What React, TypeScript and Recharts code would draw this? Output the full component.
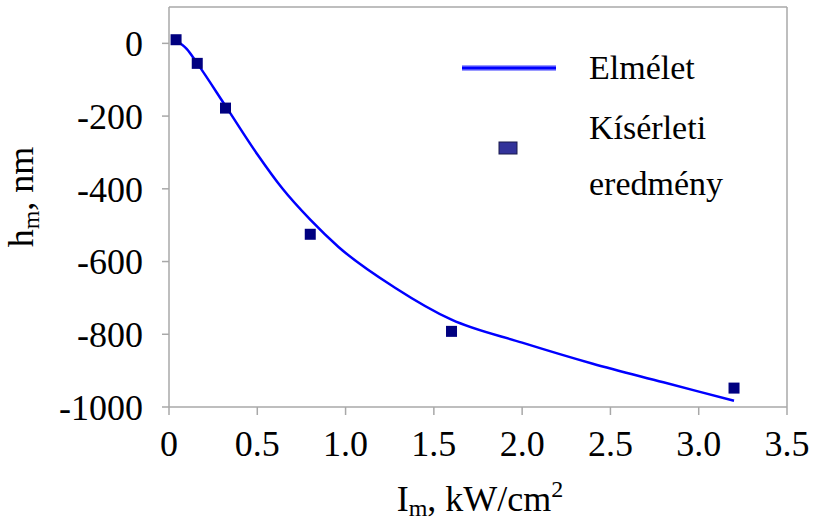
import {
  ComposedChart,
  Line,
  Scatter,
  XAxis,
  YAxis,
  ReferenceLine,
} from 'recharts';

// theoretical curve, h_m (nm) against I_m (kW/cm2)
const theoryI = [0.04, 0.1, 0.16, 0.32, 0.5, 0.64, 0.8, 0.96, 1.28, 1.6, 2.0, 2.4, 2.8, 3.2];
const theoryH = [8, -15, -55, -172, -305, -398, -485, -560, -672, -760, -823, -881, -932, -983];

// measured points
const measuredI = [0.04, 0.16, 0.32, 0.8, 1.6, 3.2];
const measuredH = [10, -55, -178, -525, -792, -948];

const xTicks = [0, 0.5, 1, 1.5, 2, 2.5, 3, 3.5];
const yTicks = [0, -200, -400, -600, -800, -1000];

const theory = theoryI.map((x, i) => ({ x, h: theoryH[i] }));
const measured = measuredI.map((x, i) => ({ x, h: measuredH[i] }));

const FONT = '"Liberation Serif", "Times New Roman", serif';
const AXIS = '#a8a8a8';

const SquareDot = (props: any) => {
  const { cx, cy } = props;
  return <rect x={cx - 5.5} y={cy - 5.5} width={11} height={11} fill="#000080" />;
};

const XTitle = () => (
  <text x={480} y={511} textAnchor="middle" fontFamily={FONT} fontSize={36} fill="#000">
    I<tspan fontSize={24} dy={5}>m</tspan>
    <tspan dy={-5}>, kW/cm</tspan>
    <tspan fontSize={24} dy={-14}>2</tspan>
  </text>
);

const YTitle = () => (
  <text
    x={0}
    y={0}
    transform="translate(33, 197) rotate(-90)"
    textAnchor="middle"
    fontFamily={FONT}
    fontSize={36}
    fill="#000"
  >
    h<tspan fontSize={24} dy={6}>m</tspan>
    <tspan dy={-6}>, nm</tspan>
  </text>
);

const LegendBox = () => (
  <div
    style={{
      position: 'absolute',
      left: 458,
      top: 30,
      width: 300,
      height: 170,
      fontFamily: FONT,
      fontSize: 34,
    }}
  >
    <svg width={110} height={170} style={{ position: 'absolute', left: 0, top: 0 }}>
      <line x1={4} y1={38} x2={98} y2={38} stroke="#9a9aff" strokeWidth={6} />
      <line x1={4} y1={38} x2={98} y2={38} stroke="#0000ff" strokeWidth={3} />
      <rect x={41} y={112} width={18} height={12} fill="#33339a" stroke="#1a1a4d" strokeWidth={1} />
    </svg>
    <div style={{ position: 'absolute', left: 131, top: 20, lineHeight: '36px' }}>Elmélet</div>
    <div style={{ position: 'absolute', left: 131, top: 70, lineHeight: '56px' }}>
      Kísérleti
      <br />
      eredmény
    </div>
  </div>
);

export default function App() {
  return (
    <div style={{ position: 'absolute', left: 0, top: 0, width: 816, height: 524, background: '#fff' }}>
      <ComposedChart
        width={816}
        height={524}
        data={theory}
        margin={{ top: 7, right: 29, bottom: 0, left: 0 }}
      >
        <XAxis
          dataKey="x"
          type="number"
          domain={[0, 3.5]}
          ticks={xTicks}
          tickFormatter={(v: number) => (v === 0 ? '0' : v.toFixed(1))}
          height={117}
          tick={{ fill: '#000', fontSize: 36, fontFamily: FONT }}
          tickSize={8}
          tickMargin={15}
          axisLine={{ stroke: AXIS, strokeWidth: 1.5 }}
          tickLine={{ stroke: AXIS, strokeWidth: 1.5 }}
          label={{ content: () => <XTitle /> }}
        />
        <YAxis
          type="number"
          domain={[-1000, 100]}
          ticks={yTicks}
          width={169}
          tick={{ fill: '#000', fontSize: 36, fontFamily: FONT }}
          tickSize={7}
          tickMargin={19}
          axisLine={{ stroke: AXIS, strokeWidth: 1.5 }}
          tickLine={{ stroke: AXIS, strokeWidth: 1.5 }}
          label={{ content: () => <YTitle /> }}
        />
        <ReferenceLine y={100} stroke={AXIS} strokeWidth={1.5} />
        <ReferenceLine x={3.5} stroke={AXIS} strokeWidth={1.5} />
        <Line
          type="monotone"
          dataKey="h"
          stroke="#0000ff"
          strokeWidth={2.5}
          dot={false}
          activeDot={false}
          isAnimationActive={false}
          name="Elmélet"
        />
        <Scatter
          data={measured}
          dataKey="h"
          shape={SquareDot}
          isAnimationActive={false}
          name="Kísérleti eredmény"
        />
      </ComposedChart>
      <LegendBox />
    </div>
  );
}
